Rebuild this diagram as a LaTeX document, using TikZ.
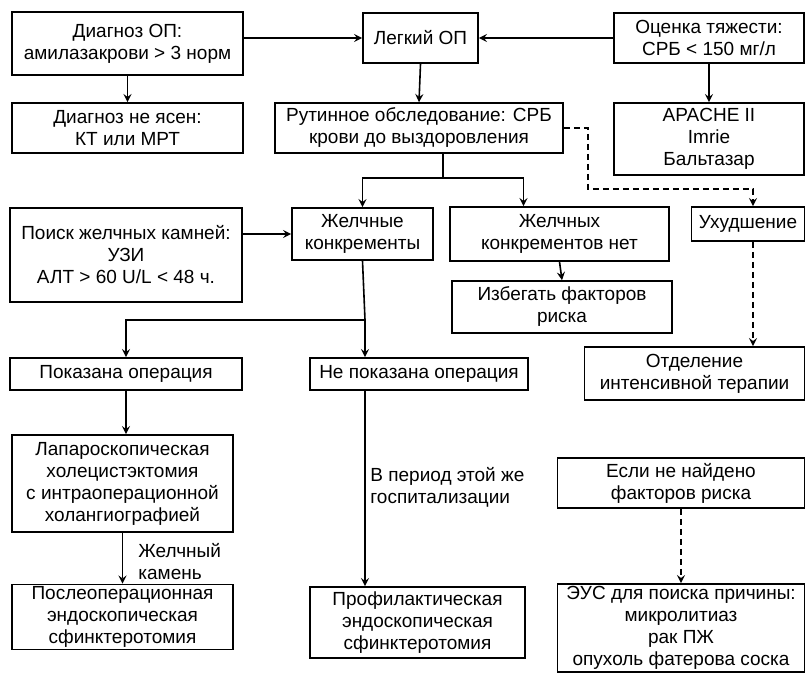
\documentclass[tikz,border=0pt]{standalone}
\usepackage{fontspec}
\setmainfont{Liberation Sans}
\usetikzlibrary{calc}
\tikzstyle{box} = [rectangle, draw=black, thick, align=center, inner sep=1pt, font=\fontsize{9.5}{11}\selectfont]
\tikzstyle{note} = [align=left, anchor=west, inner sep=0pt, font=\fontsize{9.5}{11}\selectfont]
\tikzstyle{arrow} = [thick,->,>=stealth]
\tikzstyle{darrow} = [thick,dash pattern=on 3pt off 2pt,->,>=stealth]

\begin{document}
\begin{tikzpicture}[x=0.5pt,y=-0.5pt]
    \useasboundingbox (0,0) rectangle (807,673);
    % top row
    \node (diag)[box, minimum width=115.5pt, minimum height=31.5pt] at (127.5,43.5) {Диагноз ОП:\\амилазакрови > 3 норм};
    \node (legk)[box, minimum width=57.5pt, minimum height=25pt] at (420.5,38) {Легкий ОП};
    \node (ocenka)[box, minimum width=95pt, minimum height=25pt] at (709,38) {Оценка тяжести:\\СРБ < 150 мг/л};
    \node (neyasen)[box, minimum width=115.5pt, minimum height=25pt] at (127.5,128) {Диагноз не ясен:\\КТ или МРТ};
    \node (rutin)[box, minimum width=144pt, minimum height=25pt] at (419,128) {Рутинное обследование: СРБ\\крови до выздоровления};
    \node (apache)[box, minimum width=95pt, minimum height=36pt] at (709,139) {APACHE II\\Imrie\\Бальтазар};
    % middle
    \node (poisk)[box, minimum width=116pt, minimum height=47pt] at (126,255) {Поиск желчных камней:\\УЗИ\\АЛТ > 60 U/L < 48 ч.};
    \node (zhelch)[box, minimum width=70.5pt, minimum height=26pt] at (362.5,234) {Желчные\\конкременты};
    \node (net)[box, minimum width=109.5pt, minimum height=27pt] at (559.5,234) {Желчных\\конкрементов нет};
    \node (uhud)[box, minimum width=56.5pt, minimum height=17pt] at (748,224) {Ухудшение};
    \node (izbeg)[box, minimum width=110pt, minimum height=26pt] at (562,307) {Избегать факторов\\риска};
    \node (otdel)[box, minimum width=110pt, minimum height=26.5pt] at (694.5,373.5) {Отделение\\интенсивной терапии};
    \node (pokaz)[box, minimum width=116pt, minimum height=16pt] at (126,374) {Показана операция};
    \node (nepokaz)[box, minimum width=109pt, minimum height=16pt] at (419,374) {Не показана операция};
    % bottom
    \node (laparo)[box, minimum width=110.5pt, minimum height=48.5pt] at (122.5,483.5) {Лапароскопическая\\холецистэктомия\\с интраоперационной\\холангиографией};
    \node (posle)[box, minimum width=110.5pt, minimum height=32pt] at (122.5,617) {Послеоперационная\\эндоскопическая\\сфинктеротомия};
    \node (profil)[box, minimum width=107.5pt, minimum height=35.5pt] at (417.5,622.5) {Профилактическая\\эндоскопическая\\сфинктеротомия};
    \node (esli)[box, minimum width=123.5pt, minimum height=25pt] at (681,483) {Если не найдено\\факторов риска};
    \node (eus)[box, minimum width=123.5pt, minimum height=44pt] at (681,628) {ЭУС для поиска причины:\\микролитиаз\\рак ПЖ\\опухоль фатерова соска};
    \node (kamen)[note] at (138,562) {Желчный\\камень};
    \node (period)[note] at (370,487) {В период этой же\\госпитализации};

    \coordinate (d1) at (588,189);
    \coordinate (split1) at (443,178);
    \coordinate (split2) at (365,320);

    \draw[arrow] (diag.east |- legk.west) -- (legk.west);
    \draw[arrow] (ocenka.west) -- (legk.east);
    \draw[arrow] (diag.south) -- (neyasen.north);
    \draw[arrow] (legk.south) -- (rutin.north);
    \draw[arrow] (ocenka.south) -- (apache.north);
    \draw[darrow] (rutin.east) -| (d1) -| ([xshift=2.5pt]uhud.north);
    \draw[thick] (rutin.south -| split1) -- (split1);
    \draw[arrow] (split1) -| (zhelch.north);
    \draw[arrow] (split1) -| ([xshift=-18pt]net.north);
    \draw[arrow] (poisk.east |- zhelch.west) -- (zhelch.west);
    \draw[arrow] (net.south) -- (izbeg.north);
    \draw[darrow] ([xshift=2.5pt]uhud.south) -- ([xshift=2.5pt]uhud.south |- otdel.north);
    \draw[thick] (zhelch.south) -- (split2);
    \draw[arrow] (split2) -| (pokaz.north);
    \draw[arrow] (split2) -- (split2 |- nepokaz.north);
    \draw[arrow] (pokaz.south) -- (pokaz.south |- laparo.north);
    \draw[arrow] (laparo.south) -- (posle.north);
    \draw[arrow] (nepokaz.south -| split2) -- (profil.north -| split2);
    \draw[darrow] (esli.south) -- (eus.north);
\end{tikzpicture}
\end{document}
